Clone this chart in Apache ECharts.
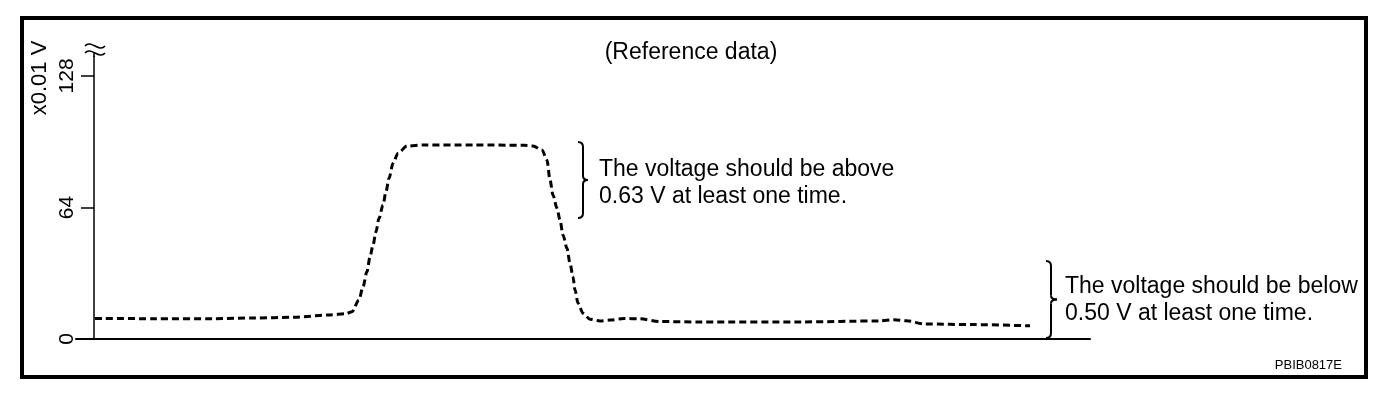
<!DOCTYPE html>
<html>
<head>
<meta charset="utf-8">
<script src="https://cdn.jsdelivr.net/npm/echarts@6/dist/echarts.min.js"></script>
<style>
html,body{margin:0;padding:0;background:#fff;}
#chart{width:1392px;height:396px;}
</style>
</head>
<body>
<div id="chart"></div>
<script>
// time position (arbitrary units along the x axis) and voltage (x0.01 V)
var timeValues = [1, 60, 120, 160, 200, 236, 252, 258, 265, 269, 273, 276, 279, 282, 285, 289, 292, 295, 299, 304, 313, 330, 380, 430, 439, 448, 453, 456, 459, 463, 466, 469, 473, 476, 479, 481, 484, 489, 496, 506, 516, 530, 546, 566, 606, 706, 786, 800, 812, 831, 880, 936];
var voltageValues = [10.0, 9.9, 9.9, 10.2, 10.6, 11.7, 12.3, 13.3, 19, 25.5, 32.8, 40, 45.7, 52.2, 58.7, 65.2, 71.7, 78.2, 85.5, 90.4, 93.9, 94.4, 94.4, 94.3, 93.9, 92, 87.1, 77.4, 70, 63.6, 57.9, 50.6, 44.1, 36.8, 30.3, 23.8, 17.4, 12.5, 9.6, 8.8, 9.2, 10.0, 9.8, 8.5, 8.3, 8.3, 8.8, 9.4, 8.9, 7.3, 7.0, 6.4];
var yTickValues = [0, 64, 128];
var titleText = '(Reference data)';
var yUnitText = 'x0.01 V';
var noteAbove = 'The voltage should be above\n0.63 V at least one time.';
var noteBelow = 'The voltage should be below\n0.50 V at least one time.';
var figureId = 'PBIB0817E';

var FONT = '"Liberation Sans", Arial, Helvetica, sans-serif';
var seriesData = timeValues.map(function (t, i) { return [t, voltageValues[i]]; });

var strokeStyle = function (w) { return {fill: 'none', stroke: '#000', lineWidth: w}; };

function brace(x0, x1, top, bottom, tip) {
  var mid = (top + bottom) / 2;
  var s = strokeStyle(2);
  return [
    {type: 'bezierCurve', shape: {x1: x0, y1: top, cpx1: x1, cpy1: top, x2: x1, y2: top + 5}, style: s},
    {type: 'line', shape: {x1: x1, y1: top + 5, x2: x1, y2: mid - 4}, style: s},
    {type: 'bezierCurve', shape: {x1: x1, y1: mid - 4, cpx1: x1, cpy1: mid, x2: tip, y2: mid}, style: s},
    {type: 'bezierCurve', shape: {x1: tip, y1: mid, cpx1: x1, cpy1: mid, x2: x1, y2: mid + 4}, style: s},
    {type: 'line', shape: {x1: x1, y1: mid + 4, x2: x1, y2: bottom - 5}, style: s},
    {type: 'bezierCurve', shape: {x1: x1, y1: bottom - 5, cpx1: x1, cpy1: bottom, x2: x0, y2: bottom}, style: s}
  ];
}

function tilde(xa, xb, y) {
  return {type: 'bezierCurve', shape: {x1: xa, y1: y, cpx1: xa + 6, cpy1: y - 7, cpx2: xb - 6, cpy2: y + 7, x2: xb, y2: y},
    style: strokeStyle(1.6)};
}

var graphics = [
  {type: 'rect', shape: {x: 22, y: 18, width: 1344, height: 359},
    style: {fill: 'none', stroke: '#000', lineWidth: 4}, silent: true},
  {type: 'text', x: 691, y: 53, style: {text: titleText, fill: '#000', font: '23px ' + FONT,
    textAlign: 'center', textVerticalAlign: 'middle'}},
  {type: 'text', x: 40, y: 78, rotation: Math.PI / 2,
    style: {text: yUnitText, fill: '#000', font: '22px ' + FONT, textAlign: 'center', textVerticalAlign: 'middle'}},
  tilde(85, 105, 46),
  tilde(85, 105, 53),
  {type: 'line', shape: {x1: 94, y1: 52, x2: 94, y2: 57}, style: strokeStyle(1.5)},
  {type: 'text', x: 599, y: 183, style: {text: noteAbove, fill: '#000', font: '23px ' + FONT,
    lineHeight: 27, textAlign: 'left', textVerticalAlign: 'middle'}},
  {type: 'text', x: 1065, y: 300, style: {text: noteBelow, fill: '#000', font: '23px ' + FONT,
    lineHeight: 27, textAlign: 'left', textVerticalAlign: 'middle'}},
  {type: 'text', x: 1342, y: 365, style: {text: figureId, fill: '#000', font: '13px ' + FONT,
    textAlign: 'right', textVerticalAlign: 'middle'}}
].concat(brace(578, 583, 142, 218, 588)).concat(brace(1046, 1051, 261, 338, 1057));

var chart = echarts.init(document.getElementById('chart'), null, {renderer: 'canvas'});
chart.setOption({
  animation: false,
  backgroundColor: '#ffffff',
  grid: {left: 76, right: 302, top: 56, bottom: 57, containLabel: false},
  xAxis: {
    type: 'value', min: -18, max: 996,
    axisLine: {show: true, onZero: false, lineStyle: {color: '#000', width: 2}},
    axisTick: {show: false}, axisLabel: {show: false}, splitLine: {show: false}
  },
  yAxis: {
    type: 'value', min: 0, max: 137.7,
    axisLine: {show: true, onZero: true, lineStyle: {color: '#000', width: 1.5}},
    axisTick: {show: true, length: 13, customValues: yTickValues, lineStyle: {color: '#000', width: 1.5}},
    axisLabel: {show: true, customValues: yTickValues, rotate: 90, margin: -2,
      color: '#000', fontFamily: FONT, fontSize: 21},
    splitLine: {show: false}
  },
  series: [{
    type: 'line',
    data: seriesData,
    showSymbol: false,
    smooth: 0.3,
    smoothMonotone: 'x',
    lineStyle: {color: '#000', width: 3, type: [7, 4]}
  }],
  graphic: graphics
});
</script>
</body>
</html>
